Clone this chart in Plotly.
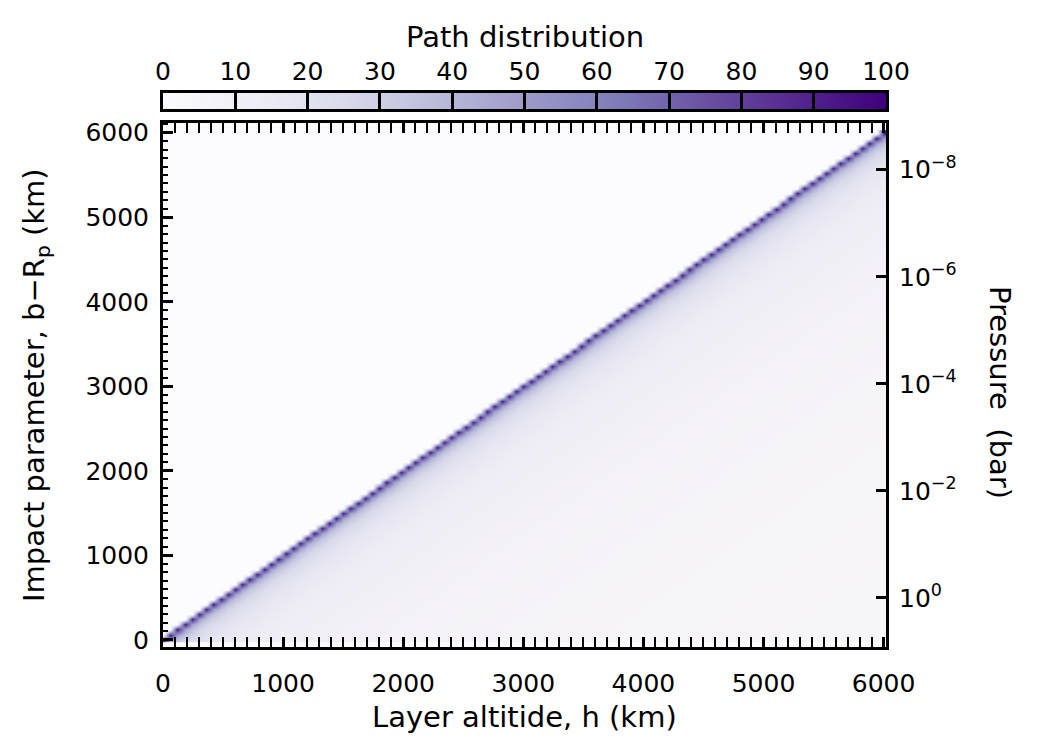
import math
import plotly.graph_objects as go

# ---------------- data ----------------
# grid of layer altitudes (x) and impact parameters (y), km
layer_altitude_km = list(range(0, 6001, 60))
impact_parameter_km = list(range(0, 6001, 60))

# path distribution (%) vs. number of layers above the tangent layer
offset_profile = [
    92, 48, 35, 28, 24, 21, 19, 17.5, 16.3, 15.3,
    14.5, 13.8, 13.2, 12.6, 12.1, 11.7, 11.3, 10.9, 10.6, 10.3,
    10.06, 9.82, 9.59, 9.38, 9.19, 9.0, 8.83, 8.66, 8.50, 8.36,
    8.22, 8.08, 7.95, 7.83, 7.72, 7.61, 7.5, 7.40, 7.30, 7.21,
    7.12, 7.03, 6.94, 6.86, 6.78, 6.71, 6.63, 6.56, 6.50, 6.43,
    6.36, 6.30, 6.24, 6.18, 6.12, 6.07, 6.01, 5.96, 5.91, 5.86,
    5.81, 5.76, 5.72, 5.67, 5.63, 5.58, 5.54, 5.50, 5.46, 5.42,
    5.38, 5.34, 5.30, 5.27, 5.23, 5.20, 5.16, 5.13, 5.10, 5.06,
    5.03, 5.00, 4.97, 4.94, 4.91, 4.88, 4.85, 4.82, 4.80, 4.77,
    4.74, 4.72, 4.69, 4.67, 4.64, 4.62, 4.59, 4.57, 4.55, 4.52,
    4.50,
]

pressure_levels_bar = [1e0, 1e-2, 1e-4, 1e-6, 1e-8]
pressure_level_altitude_km = [497, 1763, 3030, 4296, 5562]
pressure_tick_text = ["10<sup>0</sup>", "10<sup>−2</sup>", "10<sup>−4</sup>",
                      "10<sup>−6</sup>", "10<sup>−8</sup>"]

colorbar_levels = list(range(0, 101))
colorbar_ticks = list(range(0, 101, 10))

# ---------------- build ----------------
z = []
for i, b in enumerate(impact_parameter_km):
    row = []
    for j, h in enumerate(layer_altitude_km):
        row.append(offset_profile[j - i] if j >= i else 0)
    z.append(row)

purples = [[0.0, "rgb(252,251,253)"], [0.125, "rgb(239,237,245)"],
           [0.25, "rgb(218,218,235)"], [0.375, "rgb(188,189,220)"],
           [0.5, "rgb(158,154,200)"], [0.625, "rgb(128,125,186)"],
           [0.75, "rgb(106,81,163)"], [0.875, "rgb(84,39,143)"],
           [1.0, "rgb(63,0,125)"]]

Y_RANGE = [-85, 6115]
X_RANGE = [0, 6020]

# log-pressure vs altitude (linear) from the read levels
a0, a1 = pressure_level_altitude_km[0], pressure_level_altitude_km[-1]
l0, l1 = math.log10(pressure_levels_bar[0]), math.log10(pressure_levels_bar[-1])
slope = (l1 - l0) / (a1 - a0)
p_range = [l0 + slope * (Y_RANGE[0] - a0), l0 + slope * (Y_RANGE[1] - a0)]

FONT = "DejaVu Sans"
FS = 25
TFS = 29

fig = go.Figure()
fig.add_trace(go.Heatmap(
    x=layer_altitude_km, y=impact_parameter_km, z=z,
    colorscale=purples, zmin=0, zmax=100, zsmooth="best",
    showscale=False, xaxis="x", yaxis="y"))
fig.add_trace(go.Scatter(
    x=[layer_altitude_km[0]] * len(pressure_levels_bar), y=pressure_levels_bar,
    mode="markers", marker=dict(opacity=0), showlegend=False,
    hoverinfo="skip", xaxis="x", yaxis="y2"))
fig.add_trace(go.Heatmap(
    x=colorbar_levels, y=[0.5], z=[colorbar_levels],
    colorscale=purples, zmin=0, zmax=100, zsmooth="best",
    showscale=False, xaxis="x3", yaxis="y3"))

H_PAPER = 750 - 93 - 103
main_top = (647 - 123) / H_PAPER
cb_bottom = (647 - 109) / H_PAPER

axis_common = dict(showline=True, linewidth=3, linecolor="black",
                   showgrid=False, zeroline=False, ticks="inside",
                   tickwidth=3, tickcolor="black",
                   tickfont=dict(family=FONT, size=FS, color="black"))

fig.update_layout(
    width=1050, height=750,
    margin=dict(l=163, r=164, t=93, b=103),
    paper_bgcolor="white", plot_bgcolor="rgb(252,251,253)",
    showlegend=False,
    font=dict(family=FONT, size=FS, color="black"),
    xaxis=dict(domain=[0, 1], anchor="y", range=X_RANGE,
               tick0=0, dtick=1000, ticklen=10, mirror="allticks",
               ticklabelstandoff=12,
               minor=dict(ticks="inside", dtick=100, ticklen=5,
                          tickwidth=2, tickcolor="black"),
               **axis_common),
    yaxis=dict(domain=[0, main_top], anchor="x", range=Y_RANGE,
               tick0=0, dtick=1000, ticklen=10, mirror=True,
               ticklabelstandoff=6,
               minor=dict(ticks="inside", dtick=100, ticklen=5,
                          tickwidth=2, tickcolor="black"),
               **axis_common),
    yaxis2=dict(overlaying="y", side="right", anchor="x", type="log",
                range=p_range, tickvals=pressure_levels_bar,
                ticktext=pressure_tick_text, ticks="inside", ticklen=10,
                tickwidth=3, tickcolor="black", showline=False,
                showgrid=False, zeroline=False, ticklabelstandoff=12,
                tickfont=dict(family=FONT, size=FS, color="black")),
    xaxis3=dict(domain=[0, 1], anchor="y3", range=[0, 100], side="top",
                tickvals=colorbar_ticks, ticklen=16, mirror=True,
                **axis_common),
    yaxis3=dict(domain=[cb_bottom, 1], anchor="x3", range=[0, 1],
                showline=True, mirror=True, linewidth=3, linecolor="black",
                showticklabels=False, ticks="", showgrid=False,
                zeroline=False, fixedrange=True),
)


def py(ypx):
    return (647 - ypx) / H_PAPER


def px(xpx):
    return (xpx - 163) / 723


fig.add_annotation(text="Path distribution", x=0.5, y=py(37), xref="paper",
                   yref="paper", showarrow=False, xanchor="center",
                   yanchor="middle", font=dict(family=FONT, size=TFS))
fig.add_annotation(text="Layer altitide, h (km)", x=0.5, y=py(717),
                   xref="paper", yref="paper", showarrow=False,
                   xanchor="center", yanchor="middle",
                   font=dict(family=FONT, size=TFS))
fig.add_annotation(text="Impact parameter, b−R<sub>p</sub> (km)", x=px(36),
                   y=py(385), xref="paper", yref="paper", showarrow=False,
                   textangle=-90, xanchor="center", yanchor="middle",
                   font=dict(family=FONT, size=TFS))
fig.add_annotation(text="Pressure  (bar)", x=px(1000), y=py(392),
                   xref="paper", yref="paper", showarrow=False,
                   textangle=90, xanchor="center", yanchor="middle",
                   font=dict(family=FONT, size=TFS))

fig.write_html("out.html")
